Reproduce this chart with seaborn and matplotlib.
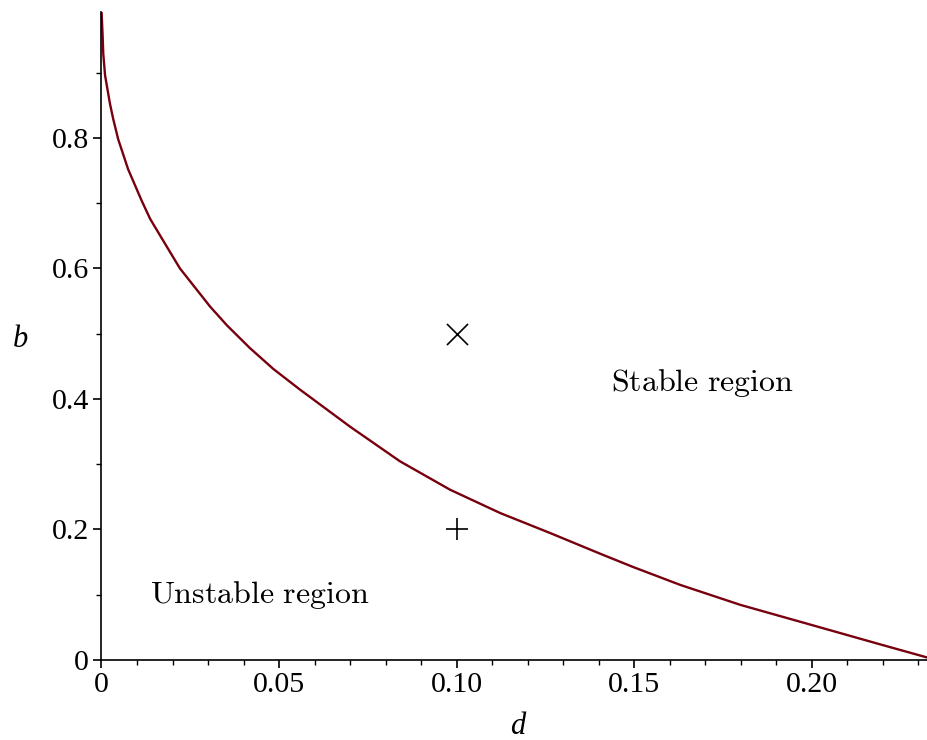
import matplotlib
matplotlib.use("Agg")
import matplotlib.pyplot as plt
import pandas as pd
import seaborn as sns
from matplotlib.ticker import MultipleLocator

# boundary curve (d, b)
d_vals = [0.0, 0.0003, 0.0005, 0.0010, 0.0024, 0.0033, 0.0047, 0.0075, 0.0113,
          0.0137, 0.0170, 0.0221, 0.0306, 0.0353, 0.0418, 0.0484, 0.0559,
          0.070, 0.0841, 0.0982, 0.1123, 0.1264, 0.1404, 0.1496, 0.163,
          0.180, 0.200, 0.2193, 0.2328]
b_vals = [0.995, 0.959, 0.929, 0.896, 0.852, 0.829, 0.798, 0.752, 0.704,
          0.676, 0.646, 0.600, 0.5415, 0.513, 0.478, 0.446, 0.4144,
          0.3576, 0.3044, 0.2609, 0.2252, 0.1945, 0.1630, 0.1428, 0.1151,
          0.0844, 0.0537, 0.0240, 0.0035]

# sample points
pt_d = [0.10, 0.10]
pt_b = [0.5, 0.2]
pt_marker = ["x", "+"]

# region labels
region_text = [r"$\mathrm{Stable\ region}$", r"$\mathrm{Unstable\ region}$"]
region_d = [0.1694, 0.0446]
region_b = [0.425, 0.0996]

x_ticks = [0, 0.05, 0.10, 0.15, 0.20]
x_labels = ["0", "0.05", "0.10", "0.15", "0.20"]
y_ticks = [0, 0.2, 0.4, 0.6, 0.8]
y_labels = ["0", "0.2", "0.4", "0.6", "0.8"]

sns.set_style("ticks")
plt.rcParams['font.family'] = ['Liberation Serif', 'DejaVu Serif']
plt.rcParams['mathtext.fontset'] = 'cm'
plt.rcParams['text.color'] = 'black'
plt.rcParams['axes.labelcolor'] = 'black'
plt.rcParams['xtick.color'] = 'black'
plt.rcParams['ytick.color'] = 'black'
plt.rcParams['axes.edgecolor'] = 'black'

curve = pd.DataFrame({"d": d_vals, "b": b_vals})

fig = plt.figure(figsize=(9.28, 7.40), dpi=100)
ax = fig.add_axes([101.5 / 928, 80 / 740, 1 - 101.5 / 928, 648 / 740])

sns.lineplot(data=curve, x="d", y="b", ax=ax, sort=False, color="#78000E",
             linewidth=1.7, estimator=None)

for d, b, m in zip(pt_d, pt_b, pt_marker):
    sns.scatterplot(x=[d], y=[b], ax=ax, marker=m, s=230, color="black",
                    linewidth=1.2)

for txt, d, b in zip(region_text, region_d, region_b):
    ax.text(d, b, txt, fontsize=23, ha="center", va="center")

ax.set_xlim(0, 0.2328)
ax.set_ylim(0, 0.993)
ax.set_xticks(x_ticks, x_labels)
ax.set_yticks(y_ticks, y_labels)
ax.xaxis.set_minor_locator(MultipleLocator(0.01))
ax.yaxis.set_minor_locator(MultipleLocator(0.1))
ax.tick_params(which="major", length=6, width=1.2, labelsize=21.5, pad=3)
ax.tick_params(which="minor", length=3.5, width=1.0)

for side in ["top", "right"]:
    ax.spines[side].set_visible(False)
for side in ["left", "bottom"]:
    ax.spines[side].set_linewidth(1.2)

ax.set_xlabel("d", fontsize=22, style="italic", va="center")
ax.set_ylabel("b", fontsize=22, style="italic", rotation=0, va="center")
ax.xaxis.set_label_coords(0.504, -0.103)
ax.yaxis.set_label_coords(-0.098, 0.495)

fig.savefig("out.png", dpi=100)
